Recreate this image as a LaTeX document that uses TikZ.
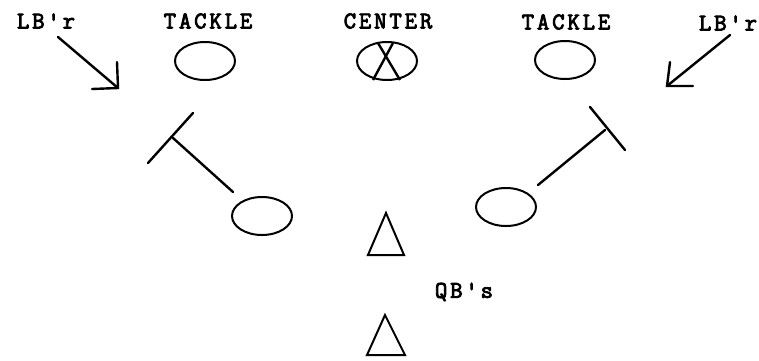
\documentclass[tikz,border=0pt]{standalone}
\usepackage{fontspec}
\newfontfamily\tw[LetterSpace=12,FakeBold=3.5]{Latin Modern Mono}
\usetikzlibrary{shapes.geometric,calc}
\begin{document}
\begin{tikzpicture}[x=1pt,y=-1pt,
  lbl/.style={font=\tw\fontsize{24}{24}\selectfont, inner sep=0pt, anchor=center},
  player/.style={draw, ellipse, line width=2pt, minimum width=60pt, minimum height=38pt, inner sep=0pt},
  qb/.style={draw, line width=2pt, line join=miter},
  ln/.style={line width=2.4pt, line cap=round}]
\useasboundingbox (0,0) rectangle (759,360);
% labels
\node[lbl] (lbrL) at (46,21) {LB'r};
\node[lbl] (tkLl) at (208,21) {TACKLE};
\node[lbl] (cnl) at (388,21) {CENTER};
\node[lbl] (tkRl) at (566,22) {TACKLE};
\node[lbl] (lbrR) at (728,23) {LB'r};
\node[lbl] (qbl) at (464,292) {QB's};
% linemen
\node[player] (tkL) at (205,61) {};
\node[player] (cn) at (387,61) {};
\node[player] (tkR) at (565,60) {};
\draw[line width=2.4pt] ($(cn.center)+(-9,-18)$) -- ($(cn.center)+(13,19)$);
\draw[line width=2.4pt] ($(cn.center)+(6,-18)$) -- ($(cn.center)+(-14,19)$);
% guards
\node[player] (gL) at (262,216) {};
\node[player] (gR) at (506,207) {};
% T blocks
\coordinate (tL) at (173,138);
\coordinate (tLa) at (148,163);
\coordinate (tLb) at (193,113);
\coordinate (sL) at (233,192);
\draw[ln] (sL) -- (tL);
\draw[ln] (tLa) -- (tLb);
\coordinate (tR) at (605,130);
\coordinate (tRa) at (590,107);
\coordinate (tRb) at (625,150);
\coordinate (sR) at (538,185);
\draw[ln] (sR) -- (tR);
\draw[ln] (tRa) -- (tRb);
% linebacker arrows
\coordinate (aLs) at (58,37);
\coordinate (aLt) at (118,88);
\draw[ln] (aLs) -- (aLt);
\draw[ln] ($(aLt)+(-1,-26)$) -- (aLt) -- ++(-26,1);
\coordinate (aRs) at (730,35);
\coordinate (aRt) at (667,86);
\draw[ln] (aRs) -- (aRt);
\draw[ln] ($(aRt)+(3,-24)$) -- (aRt) -- ++(26,0);
% quarterbacks
\draw[qb] (386,213) -- (404,255) -- (368,255) -- cycle;
\draw[qb] (385,315) -- (405,355) -- (367,355) -- cycle;
\end{tikzpicture}
\end{document}
